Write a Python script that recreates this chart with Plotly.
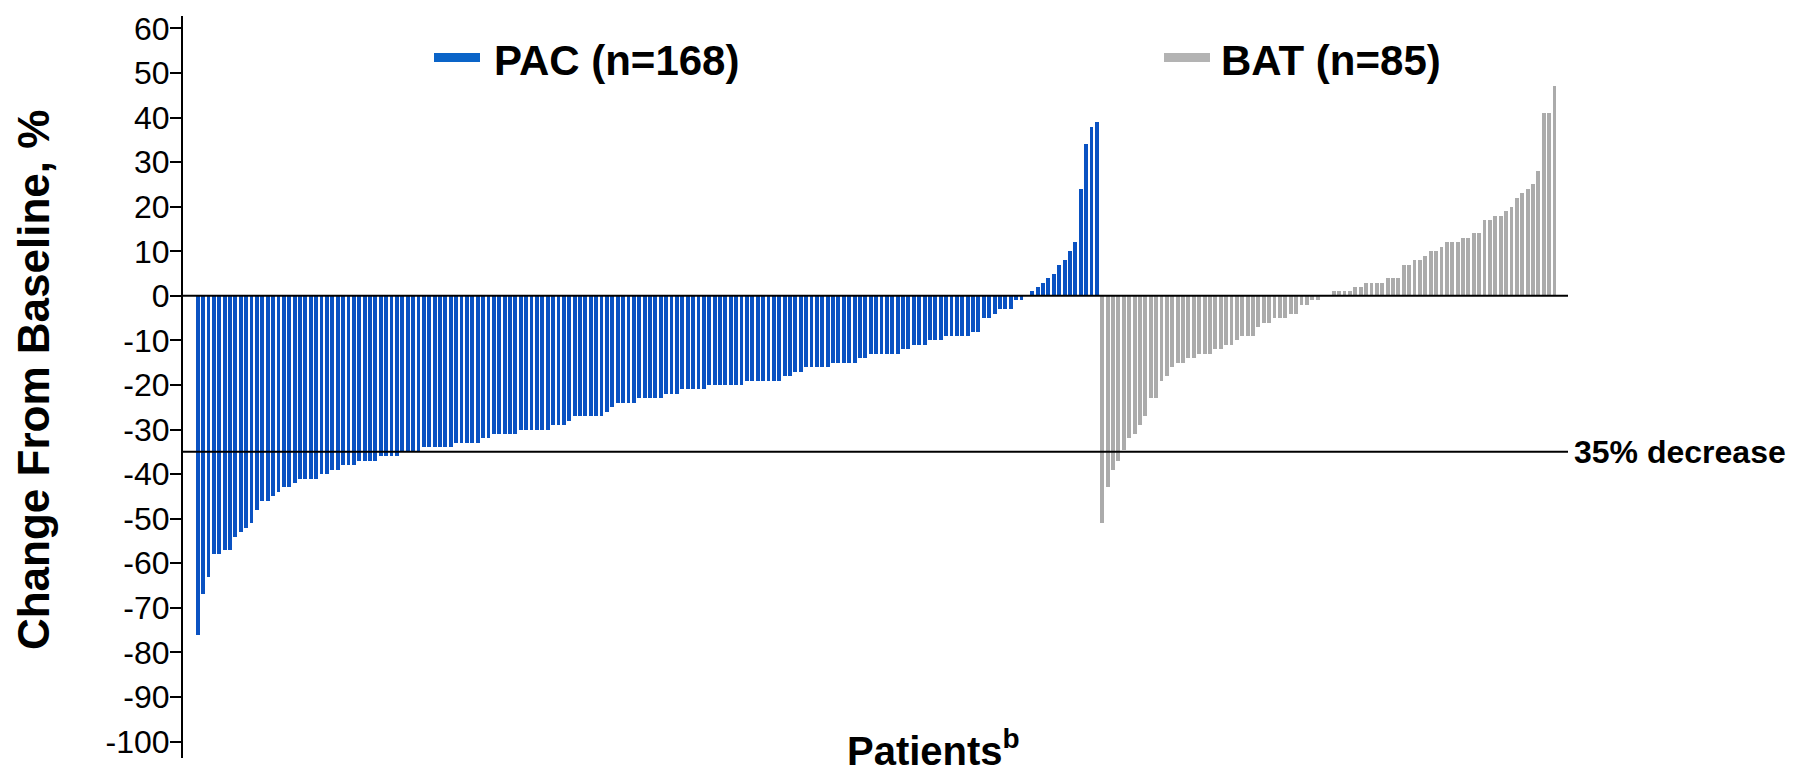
import plotly.graph_objects as go

# ---------------- data ----------------
pac_label = "PAC (n=168)"
bat_label = "BAT (n=85)"

pac_values = [
    -76, -67, -63, -58, -58, -57, -57, -54, -53, -52,
    -51, -48, -46, -46, -45, -44, -43, -43, -42, -41,
    -41, -41, -41, -40, -40, -39, -39, -38, -38, -38,
    -37, -37, -37, -37, -36, -36, -36, -36, -35, -35,
    -35, -35, -34, -34, -34, -34, -34, -34, -33, -33,
    -33, -33, -33, -32, -32, -31, -31, -31, -31, -31,
    -30, -30, -30, -30, -30, -30, -29, -29, -29, -28,
    -27, -27, -27, -27, -27, -27, -26, -25, -24, -24,
    -24, -24, -23, -23, -23, -23, -23, -22, -22, -22,
    -21, -21, -21, -21, -21, -20, -20, -20, -20, -20,
    -20, -20, -19, -19, -19, -19, -19, -19, -19, -18,
    -18, -17, -17, -16, -16, -16, -16, -16, -15, -15,
    -15, -15, -15, -14, -14, -13, -13, -13, -13, -13,
    -13, -12, -12, -11, -11, -11, -10, -10, -10, -9,
    -9, -9, -9, -9, -8, -8, -5, -5, -4, -3,
    -3, -3, -1, -1, 0, 1, 2, 3, 4, 5,
    7, 8, 10, 12, 24, 34, 38, 39,
]

bat_values = [
    -51, -43, -39, -37, -34.5, -32, -31, -29, -27, -23,
    -23, -19, -18, -16, -15, -15, -14, -14, -13, -13,
    -13, -12, -12, -11, -11, -10, -9, -9, -9, -7,
    -6, -6, -5, -5, -5, -4, -4, -2, -2, -1,
    -1, 0, 0, 1, 1, 1, 1, 2, 2, 3,
    3, 3, 3, 4, 4, 4, 7, 7, 8, 8,
    9, 10, 10, 11, 12, 12, 12, 13, 13, 14,
    14, 17, 17, 18, 18, 19, 20, 22, 23, 24,
    25, 28, 41, 41, 47,
]

threshold = -35
threshold_label = "35% decrease"
y_tick_values = [60, 50, 40, 30, 20, 10, 0, -10, -20, -30, -40, -50, -60, -70, -80, -90, -100]
y_tick_labels = ["60", "50", "40", "30", "20", "10", "0", "-10", "-20", "-30", "-40",
                 "-50", "-60", "-70", "-80", "-90", "-100"]
y_title = "Change From Baseline, %"
x_title = "Patients<sup>b</sup>"

# ---------------- style ----------------
PAC_COLOR = "#0A52C2"
PAC_LEGEND = "#0A64C8"
BAT_COLOR = "#ABABAB"
BAT_LEGEND = "#B3B3B3"
FONT = "Liberation Sans, Arial, sans-serif"

W, H = 1800, 771
ML, MR, MT, MB = 183, 232, 12, 11
plot_w = W - ML - MR
plot_h = H - MT - MB


def px_x(p):
    return (p - ML) / plot_w


def px_y(p):
    return (H - MB - p) / plot_h


pac_x = list(range(len(pac_values)))
bat_x = list(range(len(pac_values), len(pac_values) + len(bat_values)))

fig = go.Figure()
fig.add_bar(x=pac_x, y=pac_values, width=0.72,
            marker=dict(color=PAC_COLOR, line=dict(width=0)), showlegend=False)
fig.add_bar(x=bat_x, y=bat_values, width=0.72,
            marker=dict(color=BAT_COLOR, line=dict(width=0)), showlegend=False)

fig.update_layout(
    width=W, height=H,
    margin=dict(l=ML, r=MR, t=MT, b=MB, pad=0),
    plot_bgcolor="white", paper_bgcolor="white",
    bargap=0,
    font=dict(family=FONT, color="black"),
    xaxis=dict(range=[-2.73, 254.5], visible=False, showgrid=False, zeroline=False),
    yaxis=dict(
        range=[-103.7, 62.8],
        tickvals=y_tick_values, ticktext=y_tick_labels,
        ticks="outside", ticklen=11, tickwidth=2, tickcolor="black",
        showline=True, linewidth=2, linecolor="black",
        showgrid=False, zeroline=False,
        tickfont=dict(family=FONT, size=32, color="black"),
        ticklabelstandoff=-6,
    ),
)

# zero line and threshold line
fig.add_shape(type="line", xref="paper", yref="y", x0=0, x1=1, y0=0, y1=0,
              line=dict(color="black", width=2), layer="above")
fig.add_shape(type="line", xref="paper", yref="y", x0=0, x1=1, y0=threshold, y1=threshold,
              line=dict(color="black", width=2), layer="above")

# legend swatches
fig.add_shape(type="rect", xref="paper", yref="paper",
              x0=px_x(434), x1=px_x(480), y0=px_y(58.3), y1=px_y(49.3),
              fillcolor=PAC_LEGEND, line=dict(width=0))
fig.add_shape(type="rect", xref="paper", yref="paper",
              x0=px_x(1164), x1=px_x(1210), y0=px_y(58.3), y1=px_y(49.3),
              fillcolor=BAT_LEGEND, line=dict(width=0))

annotations = [
    dict(text=f"<b>{pac_label}</b>", x=px_x(492), y=px_y(57), xref="paper", yref="paper",
         xanchor="left", yanchor="middle", showarrow=False,
         font=dict(family=FONT, size=42, color="black")),
    dict(text=f"<b>{bat_label}</b>", x=px_x(1219), y=px_y(57), xref="paper", yref="paper",
         xanchor="left", yanchor="middle", showarrow=False,
         font=dict(family=FONT, size=42, color="black")),
    dict(text=f"<b>{threshold_label}</b>", x=px_x(1572), y=threshold, xref="paper", yref="y",
         xanchor="left", yanchor="middle", showarrow=False,
         font=dict(family=FONT, size=32, color="black")),
    dict(text=f"<b>{y_title}</b>", x=px_x(33), y=px_y(379), xref="paper", yref="paper",
         xanchor="center", yanchor="middle", textangle=-90, showarrow=False,
         font=dict(family=FONT, size=44, color="black")),
    dict(text=f"<b>{x_title}</b>", x=px_x(933), y=px_y(750), xref="paper", yref="paper",
         xanchor="center", yanchor="middle", showarrow=False,
         font=dict(family=FONT, size=40, color="black")),
]
fig.update_layout(annotations=annotations)

fig.write_html("out.html")
